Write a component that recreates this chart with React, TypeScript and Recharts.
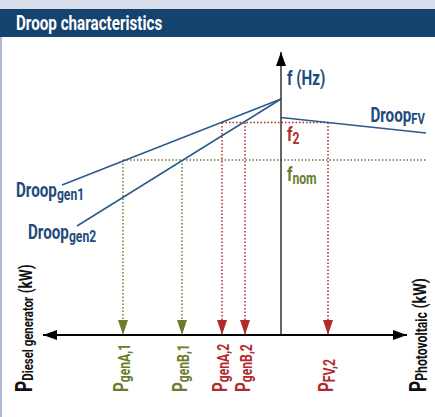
import { LineChart, Line, XAxis, YAxis, ReferenceDot } from 'recharts';

// abstract power (kW) left = diesel, right = PV ; abstract frequency units
const pMin = -23.8;
const pMax = 12.6;
const fMax = 28.3;
const fNom = 17.5;
const f2 = 21.25;

const droopGen1 = [
  { p: 0, f: 23.6 },
  { p: -21.9, f: 15.0 },
];
const droopGen2 = [
  { p: 0, f: 23.6 },
  { p: -20.4, f: 10.9 },
];
const droopFV = [
  { p: 0, f: 21.75 },
  { p: 14.5, f: 20.2 },
];

const nomPoints = [-15.8, -9.9];
const nomLabels = ['genA,1', 'genB,1'];
const f2Points = [-5.9, -3.6, 4.7];
const f2Labels = ['genA,2', 'genB,2', 'FV,2'];
const fNomEnd = 14.5;

const BLUE = '#1d4b7b';
const LINE = '#2c5a8c';
const RED = '#b22b2b';
const GREEN = '#6b7d2c';
const FONT = "Roboto, 'Liberation Sans', sans-serif";
const SX = 0.76;

type Part = { t: string; s: number; dy?: number };

function Txt({ x, y, parts, fill, rotate, anchor }: { x: number; y: number; parts: Part[]; fill: string; rotate?: boolean; anchor?: 'start' | 'end' }) {
  return (
    <text
      transform={`translate(${x} ${y})${rotate ? ' rotate(-90)' : ''} scale(${SX} 1)`}
      fill={fill}
      fontFamily={FONT}
      fontWeight={700}
      textAnchor={anchor || 'start'}
    >
      {parts.map((pt, i) => (
        <tspan key={i} fontSize={pt.s} dy={pt.dy || 0}>
          {pt.t}
        </tspan>
      ))}
    </text>
  );
}

const arrowDot = (color: string, dirs: (string | null)[]) => (props: any) => {
  const { cx, cy, index } = props;
  const k = `a${index}`;
  const d = dirs[index];
  if (!d) return <g key={k} />;
  let pts = '';
  if (d === 'down') pts = `${cx - 5},${cy - 15} ${cx + 5},${cy - 15} ${cx},${cy}`;
  if (d === 'up') pts = `${cx - 5},${cy + 14} ${cx + 5},${cy + 14} ${cx},${cy}`;
  if (d === 'left') pts = `${cx + 14},${cy - 5} ${cx + 14},${cy + 5} ${cx},${cy}`;
  if (d === 'right') pts = `${cx - 14},${cy - 5} ${cx - 14},${cy + 5} ${cx},${cy}`;
  return <polygon key={k} points={pts} fill={color} />;
};

const vertical = (p: number, f: number) => [
  { p, f },
  { p, f: 0 },
];

export default function App() {
  return (
    <div style={{ position: 'absolute', left: 0, top: 0, width: 435, height: 417, background: '#fff', overflow: 'hidden' }}>
      <div style={{ position: 'absolute', left: 0, top: 0, width: 435, height: 9, background: '#d7dde9' }} />
      <svg style={{ position: 'absolute', left: 0, top: 9 }} width={435} height={28}>
        <rect x={0} y={0} width={435} height={28} fill="#15436f" />
        <Txt x={16} y={21} parts={[{ t: 'Droop characteristics', s: 20 }]} fill="#fff" />
      </svg>
      <div style={{ position: 'absolute', left: 0, top: 37, width: 2, height: 380, background: '#aebbd0' }} />
      <div style={{ position: 'absolute', left: 0, top: 37 }}>
        <LineChart width={435} height={380} margin={{ top: 0, right: 0, bottom: 0, left: 0 }}>
          <XAxis type="number" dataKey="p" domain={[-28.1, 15.4]} hide allowDataOverflow />
          <YAxis type="number" dataKey="f" domain={[-8.2, 29.8]} hide allowDataOverflow />

          {/* dotted helper lines */}
          <Line data={[{ p: nomPoints[0], f: fNom }, { p: fNomEnd, f: fNom }]} dataKey="f" stroke={GREEN} strokeWidth={1.5} strokeDasharray="1.5 2" dot={false} activeDot={false} isAnimationActive={false} />
          <Line data={[{ p: f2Points[0], f: f2 }, { p: f2Points[2], f: f2 }]} dataKey="f" stroke={RED} strokeWidth={1.5} strokeDasharray="1.5 2" dot={false} activeDot={false} isAnimationActive={false} />
          {nomPoints.map((p, i) => (
            <Line key={`n${i}`} data={vertical(p, fNom)} dataKey="f" stroke={GREEN} strokeWidth={1.5} strokeDasharray="1.5 2" dot={arrowDot(GREEN, [null, 'down'])} activeDot={false} isAnimationActive={false} />
          ))}
          {f2Points.map((p, i) => (
            <Line key={`r${i}`} data={vertical(p, f2)} dataKey="f" stroke={RED} strokeWidth={1.5} strokeDasharray="1.5 2" dot={arrowDot(RED, [null, 'down'])} activeDot={false} isAnimationActive={false} />
          ))}

          {/* droop characteristics */}
          <Line data={droopGen1} dataKey="f" stroke={LINE} strokeWidth={1.5} dot={false} activeDot={false} isAnimationActive={false} />
          <Line data={droopGen2} dataKey="f" stroke={LINE} strokeWidth={1.5} dot={false} activeDot={false} isAnimationActive={false} />
          <Line data={droopFV} dataKey="f" stroke={LINE} strokeWidth={1.5} dot={false} activeDot={false} isAnimationActive={false} />

          {/* axes */}
          <Line data={[{ p: 0, f: 0 }, { p: 0, f: fMax }]} dataKey="f" stroke="#333" strokeWidth={1.5} dot={arrowDot('#000', [null, 'up'])} activeDot={false} isAnimationActive={false} />
          <Line data={[{ p: pMin, f: 0 }, { p: pMax, f: 0 }]} dataKey="f" stroke="#000" strokeWidth={2} dot={arrowDot('#000', ['left', 'right'])} activeDot={false} isAnimationActive={false} />

          {/* labels */}
          <ReferenceDot x={0} y={fMax} r={0} shape={(o: any) => <Txt x={o.cx + 6} y={o.cy + 33} parts={[{ t: 'f (Hz)', s: 20 }]} fill={BLUE} />} />
          <ReferenceDot x={droopFV[1].p} y={droopFV[1].f} r={0} shape={(o: any) => <Txt x={o.cx - 1} y={o.cy - 11} anchor="end" parts={[{ t: 'Droop', s: 20 }, { t: 'FV', s: 15, dy: 2 }]} fill={BLUE} />} />
          <ReferenceDot x={0} y={f2} r={0} shape={(o: any) => <Txt x={o.cx + 6} y={o.cy + 18} parts={[{ t: 'f', s: 20 }, { t: '2', s: 16, dy: 3 }]} fill={RED} />} />
          <ReferenceDot x={0} y={fNom} r={0} shape={(o: any) => <Txt x={o.cx + 6} y={o.cy + 21} parts={[{ t: 'f', s: 20 }, { t: 'nom', s: 16, dy: 3 }]} fill={GREEN} />} />
          <ReferenceDot x={droopGen1[1].p} y={droopGen1[1].f} r={0} shape={(o: any) => <Txt x={o.cx - 46} y={o.cy + 12} parts={[{ t: 'Droop', s: 20 }, { t: 'gen1', s: 16, dy: 3 }]} fill={BLUE} />} />
          <ReferenceDot x={droopGen2[1].p} y={droopGen2[1].f} r={0} shape={(o: any) => <Txt x={o.cx - 49} y={o.cy + 13} parts={[{ t: 'Droop', s: 20 }, { t: 'gen2', s: 16, dy: 3 }]} fill={BLUE} />} />
          {nomPoints.map((p, i) => (
            <ReferenceDot key={`ln${i}`} x={p} y={0} r={0} shape={(o: any) => <Txt x={o.cx + 5} y={o.cy + 57} rotate parts={[{ t: 'P', s: 20 }, { t: nomLabels[i], s: 16, dy: 2 }]} fill={GREEN} />} />
          ))}
          {f2Points.map((p, i) => (
            <ReferenceDot key={`lr${i}`} x={p} y={0} r={0} shape={(o: any) => <Txt x={o.cx + 5} y={o.cy + 57} rotate parts={[{ t: 'P', s: 20 }, { t: f2Labels[i], s: 16, dy: 2 }]} fill={RED} />} />
          ))}
          <ReferenceDot x={pMin} y={0} r={0} shape={(o: any) => <Txt x={o.cx - 11} y={o.cy + 57} rotate parts={[{ t: 'P', s: 23 }, { t: 'Diesel generator', s: 15, dy: 1 }, { t: ' (kW)', s: 18, dy: -1 }]} fill="#111" />} />
          <ReferenceDot x={pMax} y={0} r={0} shape={(o: any) => <Txt x={o.cx + 19} y={o.cy + 57} rotate parts={[{ t: 'P', s: 23 }, { t: 'Photovoltaic', s: 16, dy: 1 }, { t: ' (kW)', s: 19, dy: -1 }]} fill="#111" />} />
        </LineChart>
      </div>
    </div>
  );
}
